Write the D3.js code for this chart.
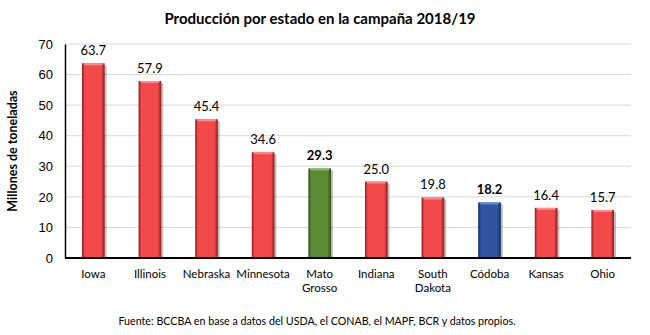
<!DOCTYPE html>
<html>
<head>
<meta charset="utf-8">
<script src="https://cdn.jsdelivr.net/npm/d3@7"></script>
<style>
  body { margin: 0; background: #fff; }
  svg { font-family: Lato, "Open Sans", sans-serif; }
</style>
</head>
<body>
<svg id="chart" width="650" height="335"></svg>
<script>
var states = ["Iowa", "Illinois", "Nebraska", "Minnesota", "Mato Grosso", "Indiana", "South Dakota", "Códoba", "Kansas", "Ohio"];
var production = [63.7, 57.9, 45.4, 34.6, 29.3, 25.0, 19.8, 18.2, 16.4, 15.7];
var barKind = ["us", "us", "us", "us", "br", "us", "us", "ar", "us", "us"];
var yTicks = [0, 10, 20, 30, 40, 50, 60, 70];

var kindColor = {
  us: {mid: "#f24a4a", dark: "#8c1a1a", light: "#ff8a8a"},
  br: {mid: "#5b8a35", dark: "#2c4a16", light: "#8fbf68"},
  ar: {mid: "#2f55a0", dark: "#14275a", light: "#6a8fd6"}
};

var svg = d3.select("#chart");
var plotLeft = 65, plotRight = 631, plotTop = 44, plotBottom = 258;

var x = d3.scaleBand().domain(states).range([plotLeft, plotRight]).paddingInner(0.6).paddingOuter(0.3);
var y = d3.scaleLinear().domain([0, 70]).range([plotBottom, plotTop]);

// gradients for the bevelled bars
var defs = svg.append("defs");
Object.keys(kindColor).forEach(function(k) {
  var c = kindColor[k];
  var g = defs.append("linearGradient").attr("id", "grad-" + k).attr("x1", 0).attr("x2", 1).attr("y1", 0).attr("y2", 0);
  g.append("stop").attr("offset", "0%").attr("stop-color", c.dark);
  g.append("stop").attr("offset", "12%").attr("stop-color", c.mid);
  g.append("stop").attr("offset", "85%").attr("stop-color", c.mid);
  g.append("stop").attr("offset", "100%").attr("stop-color", c.dark);
});

// gridlines
svg.append("g")
  .selectAll("line")
  .data(yTicks.slice(1))
  .enter().append("line")
  .attr("x1", plotLeft).attr("x2", plotRight)
  .attr("y1", function(d) { return y(d); })
  .attr("y2", function(d) { return y(d); })
  .attr("stroke", "#d9d9d9")
  .attr("stroke-width", 1);

// y axis
var yAxis = svg.append("g")
  .attr("transform", "translate(" + plotLeft + ",0)")
  .call(d3.axisLeft(y).tickValues(yTicks).tickSize(0).tickPadding(12));
yAxis.select(".domain").attr("stroke", "#000").attr("stroke-width", 1.5);
yAxis.selectAll("text").attr("font-size", 13).attr("fill", "#000");

// bars
var bars = svg.append("g").selectAll("g")
  .data(production)
  .enter().append("g");

bars.append("rect")
  .attr("x", function(d, i) { return x(states[i]) + 2; })
  .attr("y", function(d) { return y(d) + 2; })
  .attr("width", x.bandwidth())
  .attr("height", function(d) { return plotBottom - y(d) - 2; })
  .attr("fill", "#000")
  .attr("opacity", 0.25);

bars.append("rect")
  .attr("x", function(d, i) { return x(states[i]); })
  .attr("y", function(d) { return y(d); })
  .attr("width", x.bandwidth())
  .attr("height", function(d) { return plotBottom - y(d); })
  .attr("fill", function(d, i) { return "url(#grad-" + barKind[i] + ")"; });

bars.append("rect")
  .attr("x", function(d, i) { return x(states[i]) + 2; })
  .attr("y", function(d) { return y(d); })
  .attr("width", x.bandwidth() - 4)
  .attr("height", 2)
  .attr("fill", function(d, i) { return kindColor[barKind[i]].light; });

// value labels
svg.append("g").selectAll("text")
  .data(production)
  .enter().append("text")
  .attr("x", function(d, i) { return x(states[i]) + x.bandwidth() / 2; })
  .attr("y", function(d) { return y(d) - 8; })
  .attr("text-anchor", "middle")
  .attr("font-size", 13)
  .attr("font-weight", function(d, i) { return barKind[i] === "us" ? "normal" : "bold"; })
  .text(function(d) { return d.toFixed(1); });

// x axis line
svg.append("line")
  .attr("x1", plotLeft).attr("x2", plotRight)
  .attr("y1", plotBottom).attr("y2", plotBottom)
  .attr("stroke", "#000").attr("stroke-width", 2);

// category labels (wrapped on space for two-word names)
var catLabels = svg.append("g").selectAll("text")
  .data(states)
  .enter().append("text")
  .attr("x", function(d) { return x(d) + x.bandwidth() / 2; })
  .attr("y", 278)
  .attr("text-anchor", "middle")
  .attr("font-size", 11.5)
  .attr("fill", "#000");
catLabels.each(function(d) {
  var t = d3.select(this);
  d.split(" ").forEach(function(w, j) {
    t.append("tspan").attr("x", t.attr("x")).attr("dy", j === 0 ? 0 : 14).text(w);
  });
});

// title
svg.append("text")
  .attr("x", 320).attr("y", 24)
  .attr("text-anchor", "middle")
  .attr("font-size", 15).attr("font-weight", "bold")
  .text("Producción por estado en la campaña 2018/19");

// y label
svg.append("text")
  .attr("transform", "translate(17," + ((plotTop + plotBottom) / 2) + ") rotate(-90)")
  .attr("text-anchor", "middle")
  .attr("font-size", 12.5).attr("font-weight", "bold")
  .text("Millones de toneladas");

// source
svg.append("text")
  .attr("x", 317).attr("y", 325)
  .attr("text-anchor", "middle")
  .attr("font-size", 10.7)
  .text("Fuente: BCCBA en base a datos del USDA, el CONAB, el MAPF, BCR y datos propios.");
</script>
</body>
</html>
